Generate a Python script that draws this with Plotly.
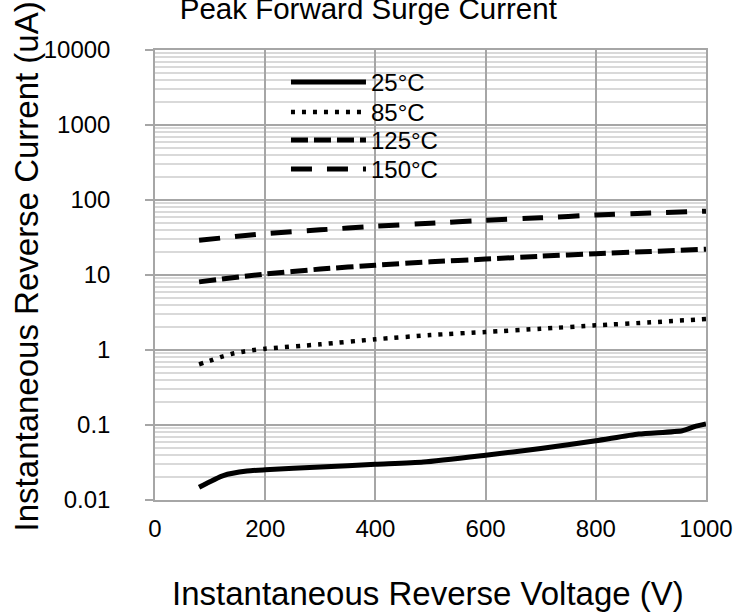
import plotly.graph_objects as go

# ---- data ----
title_text = "Peak Forward Surge Current"
x_title = "Instantaneous Reverse Voltage (V)"
y_title = "Instantaneous Reverse Current (uA)"

series_names = ["25°C", "85°C", "125°C", "150°C"]

v_25 = [80, 124, 167, 200, 300, 400, 487, 600, 700, 800, 878, 957, 979, 1000]
i_25 = [0.0148, 0.0212, 0.0243, 0.0253, 0.0275, 0.0299, 0.032, 0.0395, 0.0486,
        0.0615, 0.0757, 0.084, 0.095, 0.103]

v_85 = [80, 100, 120, 140, 160, 180, 200, 300, 400, 500, 600, 700, 800, 900, 1000]
i_85 = [0.645, 0.72, 0.81, 0.89, 0.95, 1.0, 1.04, 1.19, 1.39, 1.58, 1.74, 1.92,
        2.13, 2.34, 2.59]

v_125 = [80, 200, 300, 400, 500, 600, 700, 800, 900, 1000]
i_125 = [8.1, 10.3, 12.0, 13.5, 15.0, 16.3, 17.8, 19.2, 20.6, 22.1]

v_150 = [80, 200, 300, 400, 500, 600, 700, 800, 900, 1000]
i_150 = [29, 35.6, 40, 44.7, 49, 53.8, 58, 63, 67, 71]

x_tickvals = [0, 200, 400, 600, 800, 1000]
y_tickvals = [0.01, 0.1, 1, 10, 100, 1000, 10000]
y_ticktext = ["0.01", "0.1", "1", "10", "100", "1000", "10000"]

# ---- styles ----
FONT = "Liberation Sans, Arial, sans-serif"
MAJOR = "#a6a6a6"
MINOR = "#d9d9d9"

styles = [
    dict(color="black", width=5, dash="solid"),
    dict(color="black", width=4.5, dash="4px,7px"),
    dict(color="black", width=5, dash="17px,6px"),
    dict(color="black", width=5, dash="21px,15px"),
]
legend_ids = ["legend", "legend2", "legend3", "legend4"]
legend_tops = [0.9778, 0.9111, 0.8489, 0.7844]

fig = go.Figure()
for name, xs, ys, st, lg in zip(series_names, [v_25, v_85, v_125, v_150],
                                [i_25, i_85, i_125, i_150], styles, legend_ids):
    fig.add_trace(go.Scatter(x=xs, y=ys, name=name, mode="lines", legend=lg,
                             line=dict(shape="spline", smoothing=0.6, **st)))

# white panel behind the legend (hides the grid there)
fig.add_shape(type="rect", xref="paper", yref="paper",
              x0=0.1724, x1=0.577, y0=0.698, y1=0.96,
              fillcolor="white", line=dict(width=0), layer="between")

legend_common = dict(x=0.2377, xanchor="left", yanchor="top",
                     bgcolor="rgba(0,0,0,0)", borderwidth=0,
                     font=dict(size=24, color="black"), itemwidth=75)

fig.update_layout(
    width=744, height=613,
    margin=dict(l=155, r=38, t=50, b=113),
    paper_bgcolor="white", plot_bgcolor="white",
    font=dict(family=FONT, color="black"),
    title=dict(text=title_text, font=dict(size=29.5, color="black"),
               xref="container", x=0.495, xanchor="center",
               yref="container", y=0.9866, yanchor="middle"),
    showlegend=True,
    **{lg: dict(y=yt, **legend_common) for lg, yt in zip(legend_ids, legend_tops)},
)

fig.update_xaxes(
    range=[0, 1000], tickvals=x_tickvals,
    showgrid=True, gridcolor=MAJOR, gridwidth=1.5,
    showline=True, linecolor=MAJOR, linewidth=1.5, mirror=True,
    ticks="", ticklabelstandoff=6,
    tickfont=dict(size=24, color="black"),
    zeroline=False,
)
fig.update_yaxes(
    type="log", range=[-2, 4], tickvals=y_tickvals, ticktext=y_ticktext,
    showgrid=True, gridcolor=MAJOR, gridwidth=1.5,
    minor=dict(dtick="D1", showgrid=True, gridcolor=MINOR, gridwidth=1.5, ticks=""),
    showline=True, linecolor=MAJOR, linewidth=1.5, mirror=True,
    ticks="outside", ticklen=8, tickcolor=MAJOR, tickwidth=1.5,
    ticklabelstandoff=30,
    tickfont=dict(size=24, color="black"),
    zeroline=False,
)

fig.add_annotation(text=x_title, xref="paper", yref="paper",
                   x=0.496, y=-0.2067, xanchor="center", yanchor="middle",
                   showarrow=False, font=dict(size=33, color="black"))
fig.add_annotation(text=y_title, xref="paper", yref="paper",
                   x=-0.2332, y=0.518, xanchor="center", yanchor="middle",
                   textangle=-90, showarrow=False,
                   font=dict(size=33, color="black"))

fig.write_html("out.html", config={"displayModeBar": False},
               post_script="document.body.style.margin='0';")
